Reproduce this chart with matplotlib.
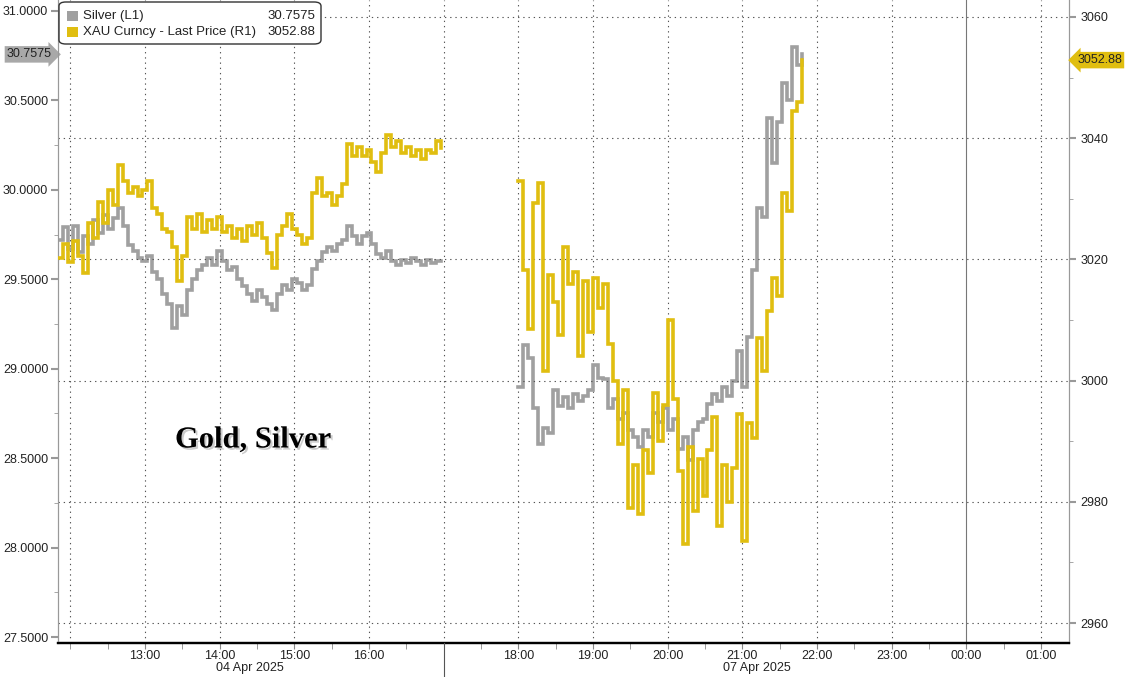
import matplotlib
matplotlib.use("Agg")
import matplotlib.pyplot as plt
import matplotlib.patheffects as pe
from matplotlib.patches import FancyBboxPatch, Rectangle
from matplotlib.lines import Line2D
import matplotlib.transforms as mtransforms
import numpy as np
import pandas as pd

plt.rcParams["font.family"] = ["Liberation Sans", "DejaVu Sans"]

# ---------------- data (4-minute samples) ----------------
silver_d1 = [29.72, 29.79, 29.67, 29.80, 29.65, 29.74, 29.70, 29.83, 29.76, 29.86,
             29.78, 29.84, 29.90, 29.80, 29.69, 29.66, 29.62, 29.60, 29.63, 29.54,
             29.50, 29.42, 29.36, 29.23, 29.35, 29.30, 29.44, 29.50, 29.55, 29.58,
             29.62, 29.58, 29.66, 29.60, 29.55, 29.57, 29.50, 29.46, 29.42, 29.38,
             29.44, 29.40, 29.36, 29.33, 29.42, 29.47, 29.44, 29.50, 29.48, 29.44,
             29.47, 29.56, 29.60, 29.65, 29.68, 29.66, 29.70, 29.72, 29.80, 29.74,
             29.70, 29.74, 29.76, 29.70, 29.64, 29.62, 29.66, 29.60, 29.58, 29.61,
             29.59, 29.62, 29.60, 29.58, 29.61, 29.59, 29.60, 29.60]
gold_d1 = [3020.2, 3022.5, 3019.5, 3023.0, 3020.5, 3017.8, 3026.0, 3023.5, 3029.5, 3026.0,
           3031.5, 3029.0, 3035.5, 3033.0, 3031.0, 3032.0, 3030.5, 3031.5, 3033.0, 3028.5,
           3027.5, 3025.0, 3024.5, 3022.0, 3016.5, 3020.5, 3027.0, 3025.0, 3027.5, 3024.5,
           3026.5, 3025.0, 3027.0, 3024.5, 3025.5, 3023.5, 3025.0, 3023.0, 3025.5, 3024.0,
           3026.0, 3023.5, 3021.0, 3018.5, 3024.0, 3025.5, 3027.5, 3025.0, 3024.0, 3022.5,
           3023.5, 3031.0, 3033.5, 3030.5, 3031.0, 3029.0, 3030.5, 3032.5, 3039.0, 3037.0,
           3038.5, 3037.0, 3038.0, 3036.0, 3034.5, 3037.5, 3040.5, 3038.5, 3039.5, 3037.5,
           3038.5, 3037.0, 3038.0, 3036.5, 3038.0, 3037.5, 3039.5, 3038.3]

silver_d2 = [28.90, 29.13, 29.06, 28.78, 28.58, 28.67, 28.64, 28.88, 28.79, 28.84,
             28.78, 28.86, 28.82, 28.85, 28.88, 29.02, 28.95, 28.94, 28.78, 28.83,
             28.72, 28.75, 28.66, 28.62, 28.56, 28.66, 28.62, 28.75, 28.70, 28.78,
             28.66, 28.72, 28.55, 28.62, 28.49, 28.66, 28.70, 28.72, 28.80, 28.86,
             28.82, 28.90, 28.85, 28.93, 29.10, 28.90, 29.18, 29.55, 29.90, 29.85,
             30.40, 30.15, 30.38, 30.60, 30.50, 30.80, 30.70, 30.7575]
gold_d2 = [3033.0, 3018.3, 3008.5, 3029.3, 3032.6, 3001.5, 3017.5, 3013.0, 3007.5, 3022.0,
           3016.0, 3018.0, 3004.0, 3016.5, 3008.0, 3017.0, 3012.0, 3016.0, 3006.0, 3000.0,
           2989.5, 2998.5, 2979.0, 2986.0, 2978.0, 2988.5, 2984.8, 2998.0, 2990.0, 2996.0,
           3010.0, 2997.0, 2985.0, 2973.0, 2989.0, 2978.5, 2987.0, 2981.0, 2988.5, 2994.0,
           2976.0, 2986.0, 2980.0, 2985.5, 2994.5, 2973.5, 2993.0, 2990.5, 3007.0, 3001.5,
           3011.5, 3017.0, 3014.0, 3031.0, 3028.0, 3044.5, 3046.0, 3052.88]

t_d1 = pd.date_range("2025-04-04 11:50", periods=len(silver_d1), freq="4min")
t_d2 = pd.date_range("2025-04-07 18:00", periods=len(silver_d2), freq="4min")

hour_ticks = [13, 14, 15, 16, 18, 19, 20, 21, 22, 23, 24, 25]
hour_labels = ["13:00", "14:00", "15:00", "16:00", "18:00", "19:00", "20:00",
               "21:00", "22:00", "23:00", "00:00", "01:00"]
left_ticks = [27.5, 28.0, 28.5, 29.0, 29.5, 30.0, 30.5, 31.0]
right_ticks = [2960, 2980, 3000, 3020, 3040, 3060]

silver_col = "#a0a0a0"
gold_col = "#e0be10"


def chart_hours(t):
    # both sessions share one compressed axis: clock hour of the day
    return np.asarray(t.hour + t.minute / 60.0, dtype=float)


W, H = 1126, 677
fig = plt.figure(figsize=(W / 100, H / 100), dpi=100)
ax = fig.add_axes([58 / W, 34 / H, (1069 - 58) / W, 643 / H])
ax2 = ax.twinx()

# lines
for t, s in ((t_d1, silver_d1), (t_d2, silver_d2)):
    ax.plot(chart_hours(t), s, drawstyle="steps-post", color=silver_col, lw=2.6,
            solid_joinstyle="miter", zorder=3)
for t, g in ((t_d1, gold_d1), (t_d2, gold_d2)):
    ax2.plot(chart_hours(t), g, drawstyle="steps-post", color=gold_col, lw=2.6,
             solid_joinstyle="miter", zorder=3)

ax.set_xlim(11.835, 25.375)
ax.set_ylim(27.4665, 31.0615)
ax2.set_ylim(2956.7, 3062.8)

# grid
dots = (0, (1.2, 3.5))
for h in range(12, 26):
    if h == 24:
        ax.axvline(h, color="#777777", lw=0.8, zorder=1)
    else:
        ax.axvline(h, color="#555555", lw=0.8, ls=dots, zorder=1)
for v in right_ticks:
    ax2.axhline(v, color="#555555", lw=0.8, ls=dots, zorder=1)

# session separator below the axis
trans = mtransforms.blended_transform_factory(ax.transData, fig.transFigure)
fig.add_artist(Line2D([17, 17], [0, 34 / H], transform=trans, color="#555555", lw=0.8))

# axes styling
for a in (ax, ax2):
    a.spines["top"].set_visible(False)
    a.spines["left"].set_color("#999999")
    a.spines["right"].set_color("#999999")
    a.spines["bottom"].set_color("black")
    a.spines["bottom"].set_linewidth(1.6)

ax.set_xticks(hour_ticks)
ax.set_xticklabels(hour_labels)
ax.set_xticks(np.arange(12, 25.5, 0.5), minor=True)
ax.tick_params(axis="x", which="both", length=4, color="#888888", labelsize=9, pad=1,
               labelcolor="#222222")

ax.set_yticks(left_ticks)
ax.set_yticklabels([f"{v:.4f}" for v in left_ticks])
ax.set_yticks(np.arange(27.75, 31.0, 0.5), minor=True)
ax.tick_params(axis="y", which="major", length=5, width=1.5, color="#999999", labelsize=9,
               pad=2, labelcolor="#222222")
ax.tick_params(axis="y", which="minor", length=3, color="#999999")

ax2.set_yticks(right_ticks)
ax2.set_yticklabels([str(v) for v in right_ticks])
ax2.set_yticks(np.arange(2970, 3060, 20), minor=True)
ax2.tick_params(axis="y", which="major", length=5, width=1.5, color="#999999", labelsize=9,
                pad=3, labelcolor="#222222")
ax2.tick_params(axis="y", which="minor", length=3, color="#999999")

# date labels under the hours
fig.text(250 / W, 1 - 668 / H, "04 Apr 2025", ha="center", va="center", fontsize=9,
         color="#222222")
fig.text(757 / W, 1 - 668 / H, "07 Apr 2025", ha="center", va="center", fontsize=9,
         color="#222222")

# last value tags
tl = mtransforms.blended_transform_factory(ax.transAxes, ax.transData)
ax.text(-0.006, silver_d2[-1], f"{silver_d2[-1]:.4f}", transform=tl, ha="right",
        va="center", fontsize=9, color="#222222", zorder=10, clip_on=False,
        bbox=dict(boxstyle="rarrow,pad=0.18", fc="#a8a8a8", ec="none"))
tr = mtransforms.blended_transform_factory(ax2.transAxes, ax2.transData)
ax2.text(1.008, gold_d2[-1], f"{gold_d2[-1]:.2f}", transform=tr, ha="left",
         va="center", fontsize=9, color="#222222", zorder=10, clip_on=False,
         bbox=dict(boxstyle="larrow,pad=0.18", fc=gold_col, ec="none"))

# legend box
fig.add_artist(FancyBboxPatch((59 / W, 1 - 44 / H), (321 - 59) / W, 42 / H,
                              boxstyle="round,pad=0,rounding_size=0.006",
                              transform=fig.transFigure, fc="white", ec="#333333",
                              lw=1.0, zorder=20))
rows = [("Silver (L1)", f"{silver_d2[-1]:.4f}", silver_col, 16),
        ("XAU Curncy - Last Price (R1)", f"{gold_d2[-1]:.2f}", gold_col, 32)]
for name, val, col, yy in rows:
    fig.add_artist(Rectangle((67 / W, 1 - (yy + 5) / H), 11 / W, 10 / H,
                             transform=fig.transFigure, fc=col, ec="none", zorder=21))
    fig.text(83 / W, 1 - yy / H, name, ha="left", va="center", fontsize=9.5,
             color="#222222", zorder=22)
    fig.text(315 / W, 1 - yy / H, val, ha="right", va="center", fontsize=9.5,
             color="#222222", zorder=22)

# chart title inside the plot
fig.text(175 / W, 1 - 440 / H, "Gold, Silver", ha="left", va="center",
         fontsize=22, fontweight="bold", family="Liberation Serif", color="black",
         path_effects=[pe.SimplePatchShadow(offset=(1.5, -1.5), shadow_rgbFace="#999999",
                                            alpha=0.5), pe.Normal()])

fig.savefig("out.png", dpi=100)
